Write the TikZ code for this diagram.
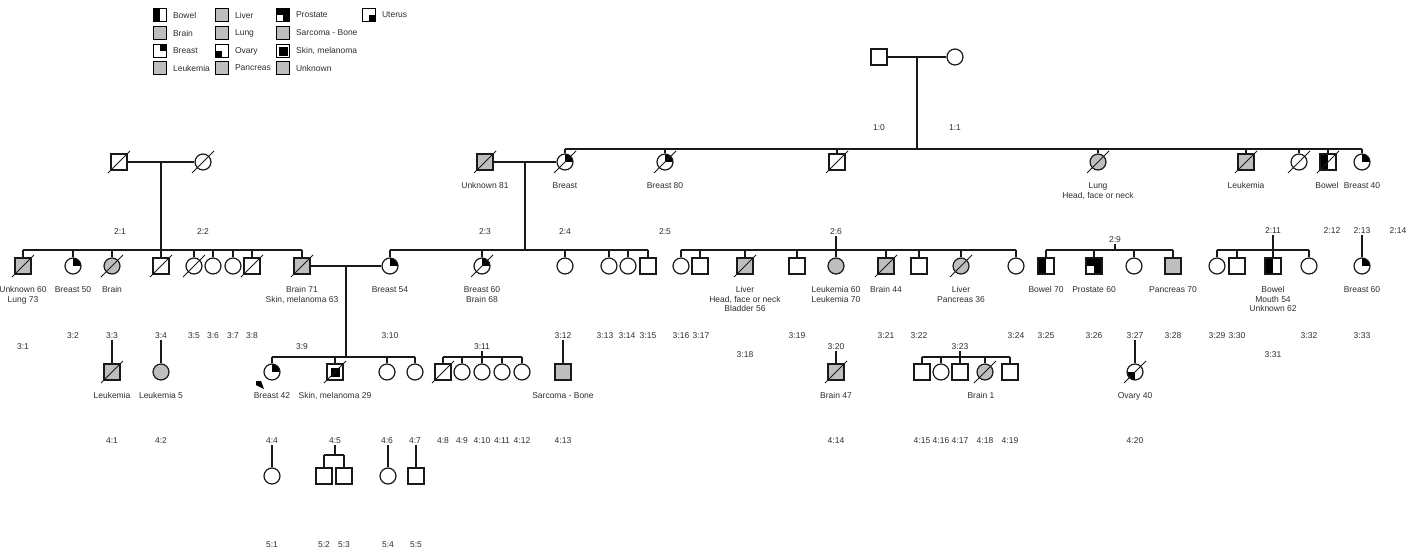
\documentclass[tikz,border=0pt]{standalone}
\usepackage{fontspec}
\setmainfont{Liberation Sans}
\usetikzlibrary{calc,positioning}
\definecolor{affgray}{RGB}{190,190,190}
\definecolor{pedline}{RGB}{25,25,25}
\definecolor{txtgray}{RGB}{45,45,45}

% slash through a deceased individual
\newcommand{\deceased}[1]{%
  \draw[pedline, line width=1pt]
    ([shift={(-11,11)}]#1.center) -- ([shift={(11,-11)}]#1.center);}

\begin{document}
\begin{tikzpicture}[x=1pt, y=-1pt, font=\fontsize{8.5}{9.5}\selectfont,
  pline/.style={draw=pedline, line width=1.3pt},
  sq/.style={rectangle, draw=pedline, line width=1.2pt, fill=white,
             minimum size=16pt, inner sep=0pt},
  ci/.style={circle, draw=pedline, line width=1.2pt, fill=white,
             minimum size=16pt, inner sep=0pt},
  aff/.style={fill=affgray},
  breast/.style={path picture={\fill[black] (path picture bounding box.center)
                 rectangle (path picture bounding box.north east);}},
  ovary/.style={path picture={\fill[black] (path picture bounding box.center)
                 rectangle (path picture bounding box.south west);}},
  uterus/.style={path picture={\fill[black] (path picture bounding box.center)
                 rectangle (path picture bounding box.south east);}},
  bowel/.style={path picture={\fill[black] (path picture bounding box.south west)
                 rectangle (path picture bounding box.north);}},
  prostate/.style={fill=black, path picture={\fill[white]
                 (path picture bounding box.south west)
                 rectangle (path picture bounding box.center);}},
  melanoma/.style={path picture={\fill[black]
                 ([shift={(-4.5,-4.5)}]path picture bounding box.center)
                 rectangle ([shift={(4.5,4.5)}]path picture bounding box.center);}},
  lbl/.style={align=center, inner sep=0pt, text=txtgray},
  idl/.style={inner sep=1pt, text=txtgray},
  lgbox/.style={rectangle, draw=black, line width=0.7pt, fill=white,
                minimum size=13pt, inner sep=0pt},
  lgtxt/.style={inner sep=1pt, text=txtgray, anchor=west},
  ]

\useasboundingbox (0,0) rectangle (1422,554);

% ======================================================================
% Legend
% ======================================================================
\node[lgbox, bowel]     (lgBowel)    at (160,15) {};
\node[lgbox, aff]       (lgBrain)    at (160,33) {};
\node[lgbox, breast]    (lgBreast)   at (160,51) {};
\node[lgbox, aff]       (lgLeuk)     at (160,68) {};
\node[lgbox, aff]       (lgLiver)    at (222,15) {};
\node[lgbox, aff]       (lgLung)     at (222,33) {};
\node[lgbox, ovary]     (lgOvary)    at (222,51) {};
\node[lgbox, aff]       (lgPanc)     at (222,68) {};
\node[lgbox, prostate]  (lgProst)    at (283,15) {};
\node[lgbox, aff]       (lgSarc)     at (283,33) {};
\node[lgbox, melanoma, line width=1pt] (lgSkin) at (283,51) {};
\node[lgbox, aff]       (lgUnkn)     at (283,68) {};
\node[lgbox, uterus]    (lgUter)     at (369,15) {};

\node[lgtxt, right=5pt of lgBowel]  (lgBowelT)  {Bowel};
\node[lgtxt, right=5pt of lgBrain]  (lgBrainT)  {Brain};
\node[lgtxt, right=5pt of lgBreast] (lgBreastT) {Breast};
\node[lgtxt, right=5pt of lgLeuk]   (lgLeukT)   {Leukemia};
\node[lgtxt, right=5pt of lgLiver]  (lgLiverT)  {Liver};
\node[lgtxt, right=5pt of lgLung]   (lgLungT)   {Lung};
\node[lgtxt, right=5pt of lgOvary]  (lgOvaryT)  {Ovary};
\node[lgtxt, right=5pt of lgPanc]   (lgPancT)   {Pancreas};
\node[lgtxt, right=5pt of lgProst]  (lgProstT)  {Prostate};
\node[lgtxt, right=5pt of lgSarc]   (lgSarcT)   {Sarcoma - Bone};
\node[lgtxt, right=5pt of lgSkin]   (lgSkinT)   {Skin, melanoma};
\node[lgtxt, right=5pt of lgUnkn]   (lgUnknT)   {Unknown};
\node[lgtxt, right=5pt of lgUter]   (lgUterT)   {Uterus};

% ======================================================================
% Generation 1
% ======================================================================
\node[sq] (p1x0) at (879,57) {};
\node[ci] (p1x1) at (955,57) {};
\draw[pline] (p1x0) -- (p1x1);

% ======================================================================
% Generation 2
% ======================================================================
\node[sq]               (p2x1)  at (119,162) {};
\node[ci]               (p2x2)  at (203,162) {};
\node[sq, aff]          (p2x3)  at (485,162) {};
\node[ci, breast]       (p2x4)  at (565,162) {};
\node[ci, breast]       (p2x5)  at (665,162) {};
\node[sq]               (p2x6)  at (837,162) {};
\node[ci, aff]          (p2x7)  at (1098,162) {};
\node[sq, aff]          (p2x8)  at (1246,162) {};
\node[ci]               (p2x9)  at (1299,162) {};
\node[sq, bowel]        (p2x10) at (1328,162) {};
\node[ci, breast]       (p2x11) at (1362,162) {};
\foreach \d in {p2x1,p2x2,p2x3,p2x4,p2x5,p2x6,p2x7,p2x8,p2x9,p2x10}
  {\deceased{\d}}

\node[lbl, below=12pt of p2x3]  (t2x3)  {Unknown 81};
\node[lbl, below=12pt of p2x4]  (t2x4)  {Breast};
\node[lbl, below=12pt of p2x5]  (t2x5)  {Breast 80};
\node[lbl, below=12pt of p2x7]  (t2x7)  {Lung\\Head, face or neck};
\node[lbl, below=12pt of p2x8]  (t2x8)  {Leukemia};
\node[lbl, below=12pt of p2x10, xshift=-1pt] (t2x10) {Bowel};
\node[lbl, below=12pt of p2x11] (t2x11) {Breast 40};

\draw[pline] (p2x1) -- (p2x2);
\draw[pline] (p2x3) -- (p2x4);

% sibship of generation 2
\coordinate (sib2) at (917,149);
\draw[pline] ($(p1x0)!0.5!(p1x1)$) -- (sib2);
\draw[pline] (p2x4.north |- sib2) -- (p2x11.north |- sib2);
\foreach \c in {p2x4,p2x5,p2x6,p2x7,p2x8,p2x9,p2x10,p2x11}
  \draw[pline] (\c.north |- sib2) -- (\c.north);

% ======================================================================
% Generation 3
% ======================================================================
\node[sq, aff]      (p3x1)  at (23,266) {};
\node[ci, breast]   (p3x2)  at (73,266) {};
\node[ci, aff]      (p3x3)  at (112,266) {};
\node[sq]           (p3x4)  at (161,266) {};
\node[ci]           (p3x5)  at (194,266) {};
\node[ci]           (p3x6)  at (213,266) {};
\node[ci]           (p3x7)  at (233,266) {};
\node[sq]           (p3x8)  at (252,266) {};
\node[sq, aff]      (p3x9)  at (302,266) {};
\node[ci, breast]   (p3x10) at (390,266) {};
\node[ci, breast]   (p3x11) at (482,266) {};
\node[ci]           (p3x12) at (565,266) {};
\node[ci]           (p3x13) at (609,266) {};
\node[ci]           (p3x14) at (628,266) {};
\node[sq]           (p3x15) at (648,266) {};
\node[ci]           (p3x16) at (681,266) {};
\node[sq]           (p3x17) at (700,266) {};
\node[sq, aff]      (p3x18) at (745,266) {};
\node[sq]           (p3x19) at (797,266) {};
\node[ci, aff]      (p3x20) at (836,266) {};
\node[sq, aff]      (p3x21) at (886,266) {};
\node[sq]           (p3x22) at (919,266) {};
\node[ci, aff]      (p3x23) at (961,266) {};
\node[ci]           (p3x24) at (1016,266) {};
\node[sq, bowel]    (p3x25) at (1046,266) {};
\node[sq, prostate] (p3x26) at (1094,266) {};
\node[ci]           (p3x27) at (1134,266) {};
\node[sq, aff]      (p3x28) at (1173,266) {};
\node[ci]           (p3x29) at (1217,266) {};
\node[sq]           (p3x30) at (1237,266) {};
\node[sq, bowel]    (p3x31) at (1273,266) {};
\node[ci]           (p3x32) at (1309,266) {};
\node[ci, breast]   (p3x33) at (1362,266) {};
\foreach \d in {p3x1,p3x3,p3x4,p3x5,p3x8,p3x9,p3x11,p3x18,p3x21,p3x23}
  {\deceased{\d}}

\node[lbl, below=12pt of p3x1]  (t3x1)  {Unknown 60\\Lung 73};
\node[lbl, below=12pt of p3x2]  (t3x2)  {Breast 50};
\node[lbl, below=12pt of p3x3]  (t3x3)  {Brain};
\node[lbl, below=12pt of p3x9]  (t3x9)  {Brain 71\\Skin, melanoma 63};
\node[lbl, below=12pt of p3x10] (t3x10) {Breast 54};
\node[lbl, below=12pt of p3x11] (t3x11) {Breast 60\\Brain 68};
\node[lbl, below=12pt of p3x18] (t3x18) {Liver\\Head, face or neck\\Bladder 56};
\node[lbl, below=12pt of p3x20] (t3x20) {Leukemia 60\\Leukemia 70};
\node[lbl, below=12pt of p3x21] (t3x21) {Brain 44};
\node[lbl, below=12pt of p3x23] (t3x23) {Liver\\Pancreas 36};
\node[lbl, below=12pt of p3x25] (t3x25) {Bowel 70};
\node[lbl, below=12pt of p3x26] (t3x26) {Prostate 60};
\node[lbl, below=12pt of p3x28] (t3x28) {Pancreas 70};
\node[lbl, below=12pt of p3x31] (t3x31) {Bowel\\Mouth 54\\Unknown 62};
\node[lbl, below=12pt of p3x33] (t3x33) {Breast 60};

\draw[pline] (p3x9) -- (p3x10);

% ======================================================================
% Generation 4
% ======================================================================
\node[sq, aff]      (p4x1)  at (112,372) {};
\node[ci, aff]      (p4x2)  at (161,372) {};
\node[ci, breast]   (p4x4)  at (272,372) {};
\node[sq, melanoma] (p4x5)  at (335,372) {};
\node[ci]           (p4x6)  at (387,372) {};
\node[ci]           (p4x7)  at (415,372) {};
\node[sq]           (p4x8)  at (443,372) {};
\node[ci]           (p4x9)  at (462,372) {};
\node[ci]           (p4x10) at (482,372) {};
\node[ci]           (p4x11) at (502,372) {};
\node[ci]           (p4x12) at (522,372) {};
\node[sq, aff]      (p4x13) at (563,372) {};
\node[sq, aff]      (p4x14) at (836,372) {};
\node[sq]           (p4x15) at (922,372) {};
\node[ci]           (p4x16) at (941,372) {};
\node[sq]           (p4x17) at (960,372) {};
\node[ci, aff]      (p4x18) at (985,372) {};
\node[sq]           (p4x19) at (1010,372) {};
\node[ci, ovary]    (p4x20) at (1135,372) {};
\foreach \d in {p4x1,p4x5,p4x8,p4x14,p4x18,p4x20}
  {\deceased{\d}}

\node[lbl, below=12pt of p4x1]  (t4x1)  {Leukemia};
\node[lbl, below=12pt of p4x2]  (t4x2)  {Leukemia 5};
\node[lbl, below=12pt of p4x4]  (t4x4)  {Breast 42};
\node[lbl, below=12pt of p4x5]  (t4x5)  {Skin, melanoma 29};
\node[lbl, below=12pt of p4x13] (t4x13) {Sarcoma - Bone};
\node[lbl, below=12pt of p4x14] (t4x14) {Brain 47};
\node[lbl, below=12pt of p4x18, xshift=-4pt] (t4x18) {Brain 1};
\node[lbl, below=12pt of p4x20] (t4x20) {Ovary 40};

% proband marker
\fill[black] (256,381) -- (261,381) -- (264,389) -- (256,385) -- cycle;

% ======================================================================
% Generation 5
% ======================================================================
\node[ci] (p5x1) at (272,476) {};
\node[sq] (p5x2) at (324,476) {};
\node[sq] (p5x3) at (344,476) {};
\node[ci] (p5x4) at (388,476) {};
\node[sq] (p5x5) at (416,476) {};

% ======================================================================
% Individual numbers
% ======================================================================
\foreach \g/\n/\x/\y in {1/0/879/128, 1/1/955/128,
    2/1/120/232, 2/2/203/232, 2/3/485/232, 2/4/565/232, 2/5/665/232,
    2/6/836/232, 2/9/1115/240, 2/11/1273/231, 2/12/1332/231,
    2/13/1362/231, 2/14/1398/231,
    3/1/23/347, 3/2/73/336, 3/3/112/336, 3/4/161/336, 3/5/194/336,
    3/6/213/336, 3/7/233/336, 3/8/252/336, 3/9/302/347, 3/10/390/336,
    3/11/482/347, 3/12/563/336, 3/13/605/336, 3/14/627/336,
    3/15/648/336, 3/16/681/336, 3/17/701/336, 3/18/745/355,
    3/19/797/336, 3/20/836/347, 3/21/886/336, 3/22/919/336,
    3/23/960/347, 3/24/1016/336, 3/25/1046/336, 3/26/1094/336,
    3/27/1135/336, 3/28/1173/336, 3/29/1217/336, 3/30/1237/336,
    3/31/1273/355, 3/32/1309/336, 3/33/1362/336,
    4/1/112/441, 4/2/161/441, 4/4/272/441, 4/5/335/441, 4/6/387/441,
    4/7/415/441, 4/8/443/441, 4/9/462/441, 4/10/482/441, 4/11/502/441,
    4/12/522/441, 4/13/563/441, 4/14/836/441, 4/15/922/441,
    4/16/941/441, 4/17/960/441, 4/18/985/441, 4/19/1010/441,
    4/20/1135/441,
    5/1/272/545, 5/2/324/545, 5/3/344/545, 5/4/388/545, 5/5/416/545}
  {\node[idl] (id\g x\n) at (\x,\y) {\g:\n};}

% ======================================================================
% Lines of descent, generation 3
% ======================================================================
\coordinate (sib3a) at (161,250);
\draw[pline] ($(p2x1)!0.5!(p2x2)$) -- (sib3a);
\draw[pline] (p3x1.north |- sib3a) -- (p3x9.north |- sib3a);
\foreach \c in {p3x1,p3x2,p3x3,p3x4,p3x5,p3x6,p3x7,p3x8,p3x9}
  \draw[pline] (\c.north |- sib3a) -- (\c.north);

\coordinate (sib3b) at (525,250);
\draw[pline] ($(p2x3)!0.5!(p2x4)$) -- (sib3b);
\draw[pline] (p3x10.north |- sib3b) -- (p3x15.north |- sib3b);
\foreach \c in {p3x10,p3x11,p3x12,p3x13,p3x14,p3x15}
  \draw[pline] (\c.north |- sib3b) -- (\c.north);

\coordinate (sib3c) at (836,250);
\draw[pline] (p3x20.north |- id2x6.south) -- (p3x20.north);
\draw[pline] (p3x16.north |- sib3c) -- (p3x24.north |- sib3c);
\foreach \c in {p3x16,p3x17,p3x18,p3x19,p3x21,p3x22,p3x23,p3x24}
  \draw[pline] (\c.north |- sib3c) -- (\c.north);

\coordinate (sib3d) at (1115,250);
\draw[pline] (sib3d |- id2x9.south) -- (sib3d);
\draw[pline] (p3x25.north |- sib3d) -- (p3x28.north |- sib3d);
\foreach \c in {p3x25,p3x26,p3x27,p3x28}
  \draw[pline] (\c.north |- sib3d) -- (\c.north);

\coordinate (sib3e) at (1273,250);
\draw[pline] (p3x31.north |- id2x11.south) -- (p3x31.north);
\draw[pline] (p3x29.north |- sib3e) -- (p3x32.north |- sib3e);
\foreach \c in {p3x29,p3x30,p3x32}
  \draw[pline] (\c.north |- sib3e) -- (\c.north);

\draw[pline] (p3x33.north |- id2x13.south) -- (p3x33.north);

% ======================================================================
% Lines of descent, generation 4
% ======================================================================
\coordinate (sib4a) at (346,357);
\draw[pline] ($(p3x9)!0.5!(p3x10)$) -- (sib4a);
\draw[pline] (p4x4.north |- sib4a) -- (p4x7.north |- sib4a);
\foreach \c in {p4x4,p4x5,p4x6,p4x7}
  \draw[pline] (\c.north |- sib4a) -- (\c.north);

\coordinate (sib4b) at (482,357);
\draw[pline] (sib4b |- id3x11.south) -- (sib4b);
\draw[pline] (p4x8.north |- sib4b) -- (p4x12.north |- sib4b);
\foreach \c in {p4x8,p4x9,p4x10,p4x11,p4x12}
  \draw[pline] (\c.north |- sib4b) -- (\c.north);

\coordinate (sib4c) at (960,357);
\draw[pline] (sib4c |- id3x23.south) -- (sib4c);
\draw[pline] (p4x15.north |- sib4c) -- (p4x19.north |- sib4c);
\foreach \c in {p4x15,p4x16,p4x17,p4x18,p4x19}
  \draw[pline] (\c.north |- sib4c) -- (\c.north);

\draw[pline] (p4x1.north |- id3x3.south) -- (p4x1.north);
\draw[pline] (p4x2.north |- id3x4.south) -- (p4x2.north);
\draw[pline] (p4x13.north |- id3x12.south) -- (p4x13.north);
\draw[pline] (p4x14.north |- id3x20.south) -- (p4x14.north);
\draw[pline] (p4x20.north |- id3x27.south) -- (p4x20.north);

% ======================================================================
% Lines of descent, generation 5
% ======================================================================
\draw[pline] (p5x1.north |- id4x4.south) -- (p5x1.north);
\coordinate (sib5) at (335,455);
\draw[pline] (sib5 |- id4x5.south) -- (sib5);
\draw[pline] (p5x2.north |- sib5) -- (p5x3.north |- sib5);
\foreach \c in {p5x2,p5x3}
  \draw[pline] (\c.north |- sib5) -- (\c.north);
\draw[pline] (p5x4.north |- id4x6.south) -- (p5x4.north);
\draw[pline] (p5x5.north |- id4x7.south) -- (p5x5.north);

\end{tikzpicture}
\end{document}
